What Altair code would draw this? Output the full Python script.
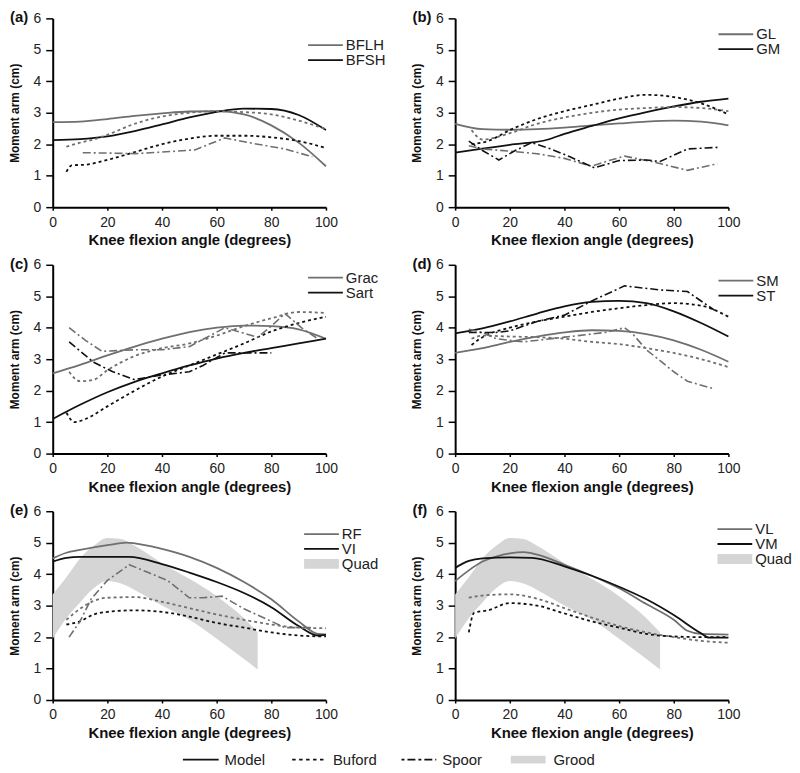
import altair as alt
import pandas as pd

# ---------------- data ----------------
MX = [0, 10, 20, 30, 40, 50, 60, 70, 80, 90, 100]

# (a) biceps femoris
A_BFLH_MODEL = [2.70, 2.72, 2.80, 2.90, 2.98, 3.04, 3.05, 2.95, 2.60, 2.05, 1.30]
A_BFSH_MODEL = [2.13, 2.16, 2.25, 2.42, 2.63, 2.85, 3.03, 3.13, 3.12, 2.93, 2.45]
A_BFLH_BUF_X = [5, 10, 15, 20, 30, 40, 50, 60, 70, 80, 90, 100]
A_BFLH_BUF_Y = [1.92, 2.05, 2.15, 2.30, 2.65, 2.88, 3.00, 3.05, 3.02, 2.95, 2.75, 2.48]
A_BFSH_BUF_X = [5, 7, 12, 20, 30, 40, 50, 60, 70, 80, 90, 100]
A_BFSH_BUF_Y = [1.12, 1.33, 1.35, 1.50, 1.75, 2.00, 2.18, 2.27, 2.27, 2.22, 2.10, 1.88]
A_BFLH_SPO_X = [11, 20, 30, 40, 52, 63, 75, 85, 95]
A_BFLH_SPO_Y = [1.73, 1.72, 1.70, 1.75, 1.82, 2.20, 2.00, 1.85, 1.60]

# (b) gastrocnemius
B_GL_MODEL = [2.65, 2.48, 2.46, 2.48, 2.53, 2.60, 2.66, 2.72, 2.75, 2.72, 2.60]
B_GM_MODEL_X = [0, 10, 20, 34, 40, 50, 60, 70, 80, 90, 100]
B_GM_MODEL_Y = [1.73, 1.86, 1.98, 2.15, 2.33, 2.58, 2.82, 3.02, 3.20, 3.35, 3.45]
B_GL_BUF_X = [6, 10, 20, 30, 40, 50, 60, 70, 80, 90, 100]
B_GL_BUF_Y = [2.45, 2.15, 2.35, 2.65, 2.85, 3.00, 3.10, 3.15, 3.18, 3.15, 3.05]
B_GM_BUF_X = [6, 12, 20, 30, 40, 50, 60, 70, 80, 90, 100]
B_GM_BUF_Y = [2.00, 2.10, 2.45, 2.80, 3.05, 3.25, 3.45, 3.57, 3.50, 3.30, 2.95]
B_GM_SPO_X = [5, 10, 16, 22, 28, 35, 42, 51, 60, 70, 75, 85, 96]
B_GM_SPO_Y = [2.10, 1.80, 1.50, 1.80, 2.05, 1.85, 1.60, 1.25, 1.48, 1.50, 1.45, 1.85, 1.90]
B_GL_SPO_X = [5, 10, 20, 30, 40, 50, 57, 62, 72, 85, 96]
B_GL_SPO_Y = [1.95, 1.85, 1.78, 1.70, 1.55, 1.30, 1.50, 1.62, 1.45, 1.17, 1.38]

# (c) gracilis / sartorius
C_GRAC_MODEL = [2.55, 2.82, 3.12, 3.40, 3.65, 3.86, 4.00, 4.07, 4.05, 3.95, 3.65]
C_SART_MODEL = [1.10, 1.55, 1.95, 2.28, 2.55, 2.80, 3.02, 3.20, 3.35, 3.50, 3.65]
C_GRAC_BUF_X = [6, 10, 15, 20, 30, 40, 50, 60, 70, 80, 90, 100]
C_GRAC_BUF_Y = [2.60, 2.30, 2.35, 2.65, 3.10, 3.35, 3.50, 3.75, 4.05, 4.30, 4.50, 4.47]
C_SART_BUF_X = [5, 8, 12, 20, 30, 40, 50, 60, 70, 80, 90, 100]
C_SART_BUF_Y = [1.30, 1.00, 1.10, 1.50, 2.00, 2.45, 2.80, 3.15, 3.50, 3.88, 4.15, 4.35]
C_GRAC_SPO_X = [6, 12, 18, 30, 40, 50, 63, 75, 80, 85, 91, 97]
C_GRAC_SPO_Y = [4.00, 3.60, 3.25, 3.30, 3.30, 3.40, 4.00, 3.70, 4.05, 4.45, 4.00, 3.65]
C_SART_SPO_X = [6, 15, 22, 30, 40, 50, 55, 63, 72, 80]
C_SART_SPO_Y = [3.55, 2.90, 2.60, 2.35, 2.50, 2.60, 2.80, 3.20, 3.20, 3.20]

# (d) semimembranosus / semitendinosus
D_SM_MODEL = [3.20, 3.35, 3.55, 3.72, 3.85, 3.92, 3.90, 3.80, 3.60, 3.30, 2.92]
D_ST_MODEL = [3.82, 3.98, 4.20, 4.45, 4.68, 4.82, 4.85, 4.78, 4.52, 4.15, 3.72]
D_BUF_X = [6, 10, 20, 30, 40, 50, 60, 70, 80, 90, 100]
D_SM_BUF_Y = [3.65, 3.75, 3.72, 3.70, 3.65, 3.55, 3.48, 3.35, 3.20, 3.00, 2.75]
D_ST_BUF_Y = [3.45, 3.70, 4.00, 4.20, 4.35, 4.50, 4.62, 4.72, 4.78, 4.70, 4.35]
D_ST_SPO_X = [5, 15, 20, 30, 40, 50, 62, 75, 85, 95]
D_ST_SPO_Y = [3.85, 3.85, 3.90, 4.20, 4.40, 4.85, 5.33, 5.20, 5.15, 4.55]
D_SM_SPO_X = [5, 10, 15, 25, 40, 55, 62, 65, 70, 80, 85, 95]
D_SM_SPO_Y = [3.95, 3.85, 3.65, 3.55, 3.70, 3.85, 4.00, 3.80, 3.30, 2.60, 2.30, 2.05]

# (e) rectus femoris / vastus intermedius
E_RF_MODEL_X = [0, 5, 10, 20, 27, 30, 40, 50, 60, 70, 80, 90, 97, 100]
E_RF_MODEL_Y = [4.50, 4.68, 4.77, 4.92, 5.00, 4.98, 4.80, 4.55, 4.20, 3.75, 3.20, 2.50, 2.10, 2.08]
E_VI_MODEL_X = [0, 5, 10, 20, 28, 40, 50, 60, 70, 80, 90, 97, 100]
E_VI_MODEL_Y = [4.40, 4.52, 4.55, 4.55, 4.55, 4.32, 4.05, 3.75, 3.40, 2.95, 2.35, 2.05, 2.08]
E_BUF_X = [5, 10, 15, 20, 30, 40, 50, 60, 70, 80, 90, 100]
E_RF_BUF_Y = [2.55, 2.90, 3.15, 3.25, 3.27, 3.12, 2.92, 2.72, 2.55, 2.40, 2.30, 2.28]
E_VI_BUF_Y = [2.40, 2.50, 2.72, 2.80, 2.85, 2.80, 2.65, 2.45, 2.30, 2.15, 2.05, 2.02]
E_RF_SPO_X = [6, 10, 14, 20, 28, 35, 42, 50, 55, 62, 70, 80, 85, 95]
E_RF_SPO_Y = [2.00, 2.50, 3.20, 3.80, 4.30, 4.05, 3.80, 3.25, 3.25, 3.30, 2.90, 2.50, 2.30, 2.30]

# (f) vastus lateralis / vastus medialis
F_VL_MODEL_X = [0, 5, 10, 15, 20, 25, 30, 40, 50, 60, 70, 80, 85, 90, 100]
F_VL_MODEL_Y = [3.78, 4.12, 4.40, 4.56, 4.66, 4.70, 4.62, 4.30, 3.95, 3.55, 3.05, 2.55, 2.20, 2.10, 2.08]
F_VM_MODEL_X = [0, 5, 10, 20, 28, 40, 50, 60, 70, 80, 90, 93, 100]
F_VM_MODEL_Y = [4.20, 4.42, 4.50, 4.53, 4.52, 4.25, 3.95, 3.60, 3.20, 2.70, 2.12, 1.98, 1.98]
F_VL_BUF_X = [5, 10, 20, 30, 40, 50, 60, 70, 80, 90, 100]
F_VL_BUF_Y = [3.25, 3.32, 3.36, 3.22, 2.92, 2.62, 2.35, 2.15, 2.00, 1.88, 1.82]
F_VM_BUF_X = [5, 7, 12, 20, 30, 40, 50, 60, 70, 80, 90, 100]
F_VM_BUF_Y = [2.15, 2.78, 2.85, 3.08, 3.00, 2.75, 2.50, 2.30, 2.10, 2.02, 2.00, 2.00]

# Grood quadriceps range (e, f)
GROOD_X = [0, 5, 10, 15, 20, 25, 30, 40, 50, 60, 70, 75]
GROOD_HI = [3.35, 3.90, 4.50, 4.90, 5.15, 5.12, 4.90, 4.35, 3.85, 3.30, 2.60, 2.15]
GROOD_LO = [1.95, 2.60, 3.10, 3.55, 3.78, 3.70, 3.50, 3.00, 2.55, 1.95, 1.30, 0.97]

X_TICKS = [0, 20, 40, 60, 80, 100]
Y_TICKS = [0, 1, 2, 3, 4, 5, 6]

# ---------------- styling ----------------
GRAY = "#6f6f6f"
BLACK = "#111111"
BAND = "#d5d5d5"
FONT = "Liberation Sans"
W, H = 275, 190
DOT = [3, 3]
DASHDOT = [8, 3, 2, 3]

xenc = alt.X("x:Q", scale=alt.Scale(domain=[0, 100], nice=False),
             axis=alt.Axis(values=X_TICKS, title="Knee flexion angle (degrees)",
                           labelFlush=False))
yenc = alt.Y("y:Q", scale=alt.Scale(domain=[0, 6], nice=False),
             axis=alt.Axis(values=Y_TICKS, title="Moment arm (cm)"))

ONE = pd.DataFrame({"k": [0]})


def series_df(items):
    rows = []
    for muscle, colr, xs, ys in items:
        for xv, yv in zip(xs, ys):
            rows.append({"x": xv, "y": yv, "muscle": muscle, "c": colr})
    return pd.DataFrame(rows)


def line_layer(items, dash=None, width=1.8, interp="monotone"):
    kw = dict(strokeWidth=width, interpolate=interp)
    if dash:
        kw["strokeDash"] = dash
    return alt.Chart(series_df(items)).mark_line(**kw).encode(
        x=xenc, y=yenc, color=alt.Color("c:N", scale=None), detail="muscle:N")


def panel(label, names, model, buford, spoor, lx, ly, grood=False, extra=()):
    layers = []
    if grood:
        gdf = pd.DataFrame({"x": GROOD_X, "y": GROOD_LO, "hi": GROOD_HI})
        layers.append(alt.Chart(gdf).mark_area(color=BAND, interpolate="monotone").encode(
            x=xenc, y=yenc, y2="hi:Q"))
    layers.append(line_layer(model, width=1.8))
    layers.append(line_layer(buford, dash=DOT, width=1.8))
    if spoor:
        layers.append(line_layer(spoor, dash=DASHDOT, width=1.6, interp="linear"))
    # in-panel legend
    for i, (nm, colr) in enumerate(names):
        yy = ly + i * 15
        layers.append(alt.Chart(ONE).mark_rule(color=colr, strokeWidth=1.8).encode(
            x=alt.value(lx), x2=alt.value(lx + 35), y=alt.value(yy)))
        layers.append(alt.Chart(ONE).mark_text(align="left", baseline="middle", font=FONT,
                                               fontSize=15, color="#222").encode(
            x=alt.value(lx + 38), y=alt.value(yy), text=alt.value(nm)))
    if grood:
        yy = ly + 2 * 15
        layers.append(alt.Chart(ONE).mark_rect(color=BAND).encode(
            x=alt.value(lx), x2=alt.value(lx + 35), y=alt.value(yy - 5), y2=alt.value(yy + 5)))
        layers.append(alt.Chart(ONE).mark_text(align="left", baseline="middle", font=FONT,
                                               fontSize=15, color="#222").encode(
            x=alt.value(lx + 38), y=alt.value(yy), text=alt.value("Quad")))
    layers.append(alt.Chart(ONE).mark_text(align="left", baseline="middle", font=FONT,
                                           fontSize=15, fontWeight="bold", color="#111").encode(
        x=alt.value(-43), y=alt.value(-1), text=alt.value(label)))
    layers.extend(extra)
    return alt.layer(*layers).properties(width=W, height=H)


# bottom legend (attached below panel e)
LEG_Y = 250
bottom = [
    alt.Chart(ONE).mark_rule(color=BLACK, strokeWidth=1.8).encode(
        x=alt.value(131), x2=alt.value(167), y=alt.value(LEG_Y)),
    alt.Chart(ONE).mark_rule(color=BLACK, strokeWidth=1.8, strokeDash=[3.5, 3.5]).encode(
        x=alt.value(241), x2=alt.value(276), y=alt.value(LEG_Y)),
    alt.Chart(ONE).mark_rule(color=BLACK, strokeWidth=1.8, strokeDash=[3, 3, 8, 3]).encode(
        x=alt.value(351), x2=alt.value(386), y=alt.value(LEG_Y)),
    alt.Chart(ONE).mark_rect(color=BAND).encode(
        x=alt.value(461), x2=alt.value(496), y=alt.value(LEG_Y - 4), y2=alt.value(LEG_Y + 4)),
]
for tx, tt in [(173, "Model"), (282, "Buford"), (392, "Spoor"), (504, "Grood")]:
    bottom.append(alt.Chart(ONE).mark_text(align="left", baseline="middle", font=FONT,
                                           fontSize=15, color="#222").encode(
        x=alt.value(tx), y=alt.value(LEG_Y), text=alt.value(tt)))

pa = panel("(a)", [("BFLH", GRAY), ("BFSH", BLACK)],
           [("BFLH", GRAY, MX, A_BFLH_MODEL), ("BFSH", BLACK, MX, A_BFSH_MODEL)],
           [("BFLH", GRAY, A_BFLH_BUF_X, A_BFLH_BUF_Y), ("BFSH", BLACK, A_BFSH_BUF_X, A_BFSH_BUF_Y)],
           [("BFLH", GRAY, A_BFLH_SPO_X, A_BFLH_SPO_Y)],
           257, 27)
pb = panel("(b)", [("GL", GRAY), ("GM", BLACK)],
           [("GL", GRAY, MX, B_GL_MODEL), ("GM", BLACK, B_GM_MODEL_X, B_GM_MODEL_Y)],
           [("GL", GRAY, B_GL_BUF_X, B_GL_BUF_Y), ("GM", BLACK, B_GM_BUF_X, B_GM_BUF_Y)],
           [("GL", GRAY, B_GL_SPO_X, B_GL_SPO_Y), ("GM", BLACK, B_GM_SPO_X, B_GM_SPO_Y)],
           265, 16)
pc = panel("(c)", [("Grac", GRAY), ("Sart", BLACK)],
           [("Grac", GRAY, MX, C_GRAC_MODEL), ("Sart", BLACK, MX, C_SART_MODEL)],
           [("Grac", GRAY, C_GRAC_BUF_X, C_GRAC_BUF_Y), ("Sart", BLACK, C_SART_BUF_X, C_SART_BUF_Y)],
           [("Grac", GRAY, C_GRAC_SPO_X, C_GRAC_SPO_Y), ("Sart", BLACK, C_SART_SPO_X, C_SART_SPO_Y)],
           257, 13)
pd_ = panel("(d)", [("SM", GRAY), ("ST", BLACK)],
            [("SM", GRAY, MX, D_SM_MODEL), ("ST", BLACK, MX, D_ST_MODEL)],
            [("SM", GRAY, D_BUF_X, D_SM_BUF_Y), ("ST", BLACK, D_BUF_X, D_ST_BUF_Y)],
            [("SM", GRAY, D_SM_SPO_X, D_SM_SPO_Y), ("ST", BLACK, D_ST_SPO_X, D_ST_SPO_Y)],
            265, 16)
pe = panel("(e)", [("RF", GRAY), ("VI", BLACK)],
           [("RF", GRAY, E_RF_MODEL_X, E_RF_MODEL_Y), ("VI", BLACK, E_VI_MODEL_X, E_VI_MODEL_Y)],
           [("RF", GRAY, E_BUF_X, E_RF_BUF_Y), ("VI", BLACK, E_BUF_X, E_VI_BUF_Y)],
           [("RF", GRAY, E_RF_SPO_X, E_RF_SPO_Y)],
           253, 23, grood=True, extra=bottom)
pf = panel("(f)", [("VL", GRAY), ("VM", BLACK)],
           [("VL", GRAY, F_VL_MODEL_X, F_VL_MODEL_Y), ("VM", BLACK, F_VM_MODEL_X, F_VM_MODEL_Y)],
           [("VL", GRAY, F_VL_BUF_X, F_VL_BUF_Y), ("VM", BLACK, F_VM_BUF_X, F_VM_BUF_Y)],
           [],
           264, 18, grood=True)

chart = alt.concat(pa, pb, pc, pd_, pe, pf, columns=2,
                   spacing={"row": 58, "column": 130}, bounds="flush").properties(
    padding=0
).configure_view(stroke=None).configure_axis(
    grid=False, domainColor="black", domainWidth=2, tickColor="black", tickWidth=1.5,
    labelFont=FONT, labelFontSize=14, labelColor="#222",
    titleFont=FONT, titleFontWeight="bold", titleColor="#111"
).configure_axisX(
    tickSize=3, labelPadding=5, titleFontSize=15, titlePadding=4
).configure_axisY(
    tickSize=7, labelPadding=5, titleFontSize=12, titlePadding=12
)

chart.save("out.html", embed_options={"renderer": "svg", "actions": False})
